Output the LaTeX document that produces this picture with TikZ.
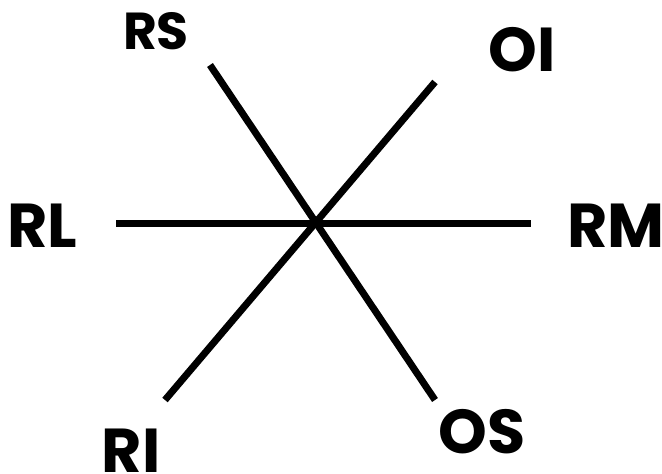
\documentclass[tikz,border=0pt]{standalone}
\usepackage{fontspec}
\setmainfont{Poppins}
\begin{document}
\begin{tikzpicture}[x=1pt,y=-1pt,
  lbl/.style={inner sep=0pt,font=\bfseries\fontsize{62}{62}\selectfont},
  axis/.style={line width=7pt}]
\useasboundingbox (0,0) rectangle (662,474);
\coordinate (c) at (317,222);
\coordinate (eRS) at (210,65);
\coordinate (eOS) at (435,400);
\coordinate (eOI) at (435,82);
\coordinate (eRI) at (165,400);
\coordinate (eRL) at (116,223);
\coordinate (eRM) at (531,223);
\draw[axis] (eRS) -- (eOS);
\draw[axis] (eOI) -- (eRI);
\draw[axis] (eRL) -- (eRM);
\node[lbl,font=\bfseries\fontsize{52}{52}\selectfont] (RS) at (156,31) {RS};
\node[lbl] (OI) at (522,50) {OI};
\node[lbl] (RL) at (42,226) {RL};
\node[lbl] (RM) at (616,226) {RM};
\node[lbl] (RI) at (131,451) {RI};
\node[lbl] (OS) at (482,432) {OS};
\end{tikzpicture}
\end{document}
